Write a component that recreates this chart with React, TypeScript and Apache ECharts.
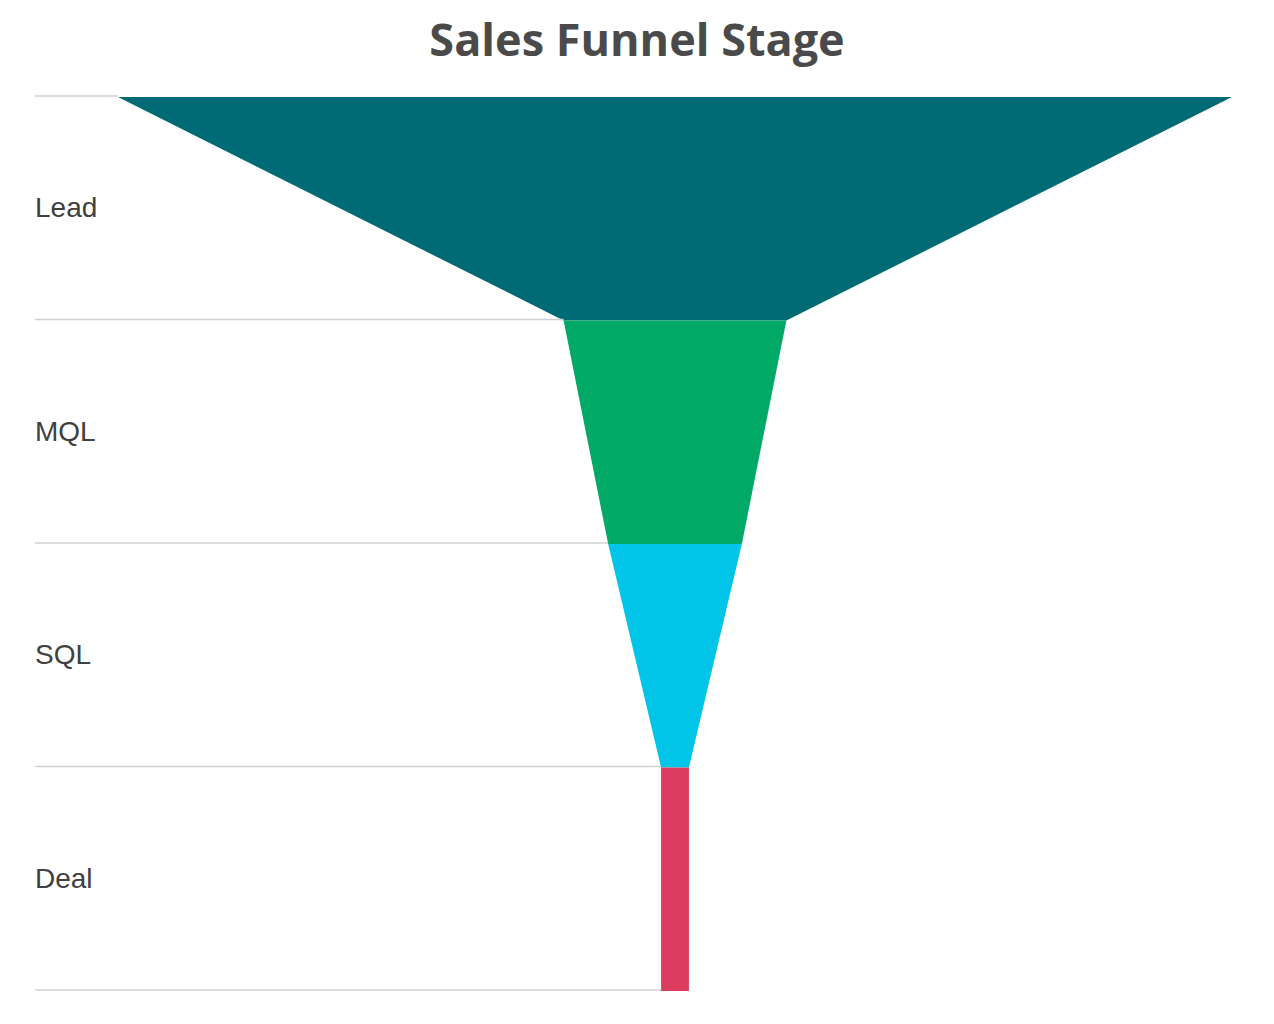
import React, { useEffect, useRef } from 'react';
import * as echarts from 'echarts';

// 漏斗各阶段
const stages = ['Lead', 'MQL', 'SQL', 'Deal'];
const stageValues = [1000, 200, 120, 25];
const stageColors = ['#006b75', '#00aa66', '#00c5e8', '#dc3c5f'];

const App: React.FC = () => {
  const chartRef = useRef<HTMLDivElement>(null);

  useEffect(() => {
    if (!chartRef.current) return;
    const chart = echarts.init(chartRef.current, undefined, { renderer: 'svg' });
    const maxValue = Math.max(...stageValues);
    const labelGap = 83;

    const option: echarts.EChartsOption = {
      animation: false,
      title: {
        text: 'Sales Funnel Stage',
        left: 'center',
        top: 11,
        textStyle: {
          fontFamily: '"Open Sans", sans-serif',
          fontWeight: 'bold',
          fontSize: 45,
          color: '#4a4a4a'
        }
      },
      grid: {
        left: 118,
        right: 42,
        top: 96,
        bottom: 34
      },
      xAxis: {
        type: 'value',
        min: -maxValue / 2,
        max: maxValue / 2,
        show: false
      },
      yAxis: {
        type: 'category',
        inverse: true,
        data: stages,
        axisLine: { show: false },
        axisTick: { show: false },
        splitLine: { show: false },
        axisLabel: {
          align: 'left',
          margin: labelGap,
          fontFamily: '"Liberation Sans", Arial, sans-serif',
          fontSize: 28,
          color: '#404040'
        }
      },
      series: [
        {
          type: 'custom',
          data: stageValues.map((v, i) => [v, i]),
          encode: { x: 0, y: 1 },
          renderItem: (params: any, api: any) => {
            const i = params.dataIndex;
            const value = api.value(0);
            const next = i < stageValues.length - 1 ? stageValues[i + 1] : value;
            const center = api.coord([0, i]);
            const bandH = api.size([0, 1])[1];
            const top = center[1] - bandH / 2;
            const bottom = center[1] + bandH / 2;
            const w1 = api.size([value, 0])[0];
            const w2 = api.size([next, 0])[0];
            const cx = center[0];
            const leftX = params.coordSys.x - labelGap;
            const lineStyle = { stroke: '#d0d0d0', lineWidth: 1.5 };
            const children: any[] = [
              {
                type: 'line',
                shape: { x1: leftX, y1: top, x2: cx - w1 / 2, y2: top },
                style: lineStyle
              }
            ];
            if (i === stageValues.length - 1) {
              children.push({
                type: 'line',
                shape: { x1: leftX, y1: bottom, x2: cx - w2 / 2, y2: bottom },
                style: lineStyle
              });
            }
            children.push({
              type: 'polygon',
              shape: {
                points: [
                  [cx - w1 / 2, top + 1],
                  [cx + w1 / 2, top + 1],
                  [cx + w2 / 2, bottom + 1],
                  [cx - w2 / 2, bottom + 1]
                ]
              },
              style: { fill: stageColors[i] }
            });
            return { type: 'group', children };
          }
        }
      ]
    };

    chart.setOption(option);
    return () => {
      chart.dispose();
    };
  }, []);

  return (
    <div
      ref={chartRef}
      style={{ position: 'absolute', left: 0, top: 0, width: 1274, height: 1024 }}
    />
  );
};

export default App;
